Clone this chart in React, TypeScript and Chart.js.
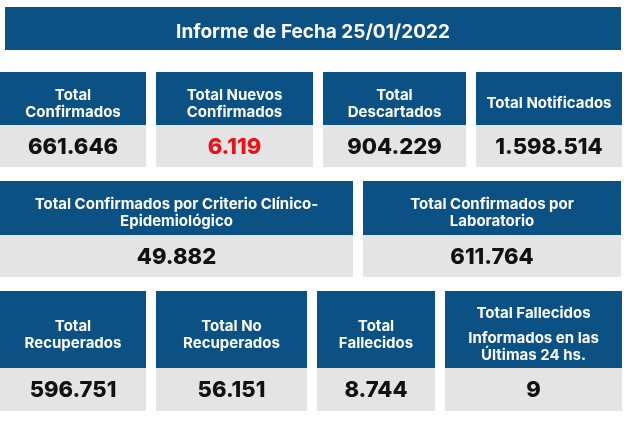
import React, { useEffect, useRef } from "react";
import { Chart, registerables } from "chart.js";

Chart.register(...registerables);

// ---------- data ----------
const reportTitle = "Informe de Fecha 25/01/2022";

const cardTitles: string[][][] = [
  [["Total", "Confirmados"]],
  [["Total Nuevos", "Confirmados"]],
  [["Total", "Descartados"]],
  [["Total Notificados"]],
  [["Total Confirmados por Criterio Clínico-", "Epidemiológico"]],
  [["Total Confirmados por", "Laboratorio"]],
  [["Total", "Recuperados"]],
  [["Total No", "Recuperados"]],
  [["Total", "Fallecidos"]],
  [["Total Fallecidos"], ["Informados en las", "Últimas 24 hs."]],
];

const cardValues: number[] = [661646, 6119, 904229, 1598514, 49882, 611764, 596751, 56151, 8744, 9];

const highlightedCards: number[] = [1];

// ---------- layout (units of the hidden 630 x 424 scales) ----------
const titleBox = { x0: 5, x1: 621, y0: 7, y1: 50 };
const rows = [
  { top: 72, split: 125, bottom: 167, cols: [[0, 146], [156, 313], [323, 466], [476, 622]] },
  { top: 181, split: 235, bottom: 277, cols: [[0, 353], [363, 621]] },
  { top: 291, split: 368, bottom: 411, cols: [[0, 146], [156, 307], [317, 435], [445, 622]] },
];

const BLUE = "#0b5183";
const GREY = "#e4e4e4";
const RED = "#e5141b";
const FONT = "Inter, 'Open Sans', 'DejaVu Sans', sans-serif";

function fmt(n: number): string {
  return String(n).replace(/\B(?=(\d{3})+(?!\d))/g, ".");
}

const cardsPlugin = {
  id: "cards",
  afterDraw(chart: any) {
    const ctx: CanvasRenderingContext2D = chart.ctx;
    const sx = chart.scales.x;
    const sy = chart.scales.y;
    const px = (v: number) => sx.getPixelForValue(v);
    const py = (v: number) => sy.getPixelForValue(v);

    ctx.save();
    // title bar
    ctx.fillStyle = BLUE;
    ctx.fillRect(px(titleBox.x0), py(titleBox.y0), px(titleBox.x1) - px(titleBox.x0), py(titleBox.y1) - py(titleBox.y0));
    ctx.fillStyle = "#ffffff";
    ctx.font = `700 19px ${FONT}`;
    ctx.textAlign = "center";
    ctx.textBaseline = "middle";
    ctx.fillText(reportTitle, (px(titleBox.x0) + px(titleBox.x1)) / 2, (py(titleBox.y0) + py(titleBox.y1)) / 2 + 4);

    let idx = 0;
    rows.forEach((row) => {
      row.cols.forEach(([c0, c1]) => {
        const i = idx++;
        const x0 = px(c0);
        const x1 = px(c1);
        const yT = py(row.top);
        const yS = py(row.split);
        const yB = py(row.bottom);
        ctx.fillStyle = BLUE;
        ctx.fillRect(x0, yT, x1 - x0, yS - yT);
        ctx.fillStyle = GREY;
        ctx.fillRect(x0, yS, x1 - x0, yB - yS);

        // header text
        const paras = cardTitles[i];
        const lineH = 17;
        const paraGap = 8;
        const lines: { text: string; off: number }[] = [];
        let y = 0;
        paras.forEach((p, pi) => {
          if (pi > 0) y += paraGap;
          p.forEach((t) => {
            lines.push({ text: t, off: y });
            y += lineH;
          });
        });
        const total = y - lineH;
        const cy = (yT + yS) / 2 + 5;
        ctx.fillStyle = "#ffffff";
        ctx.font = `700 15px ${FONT}`;
        lines.forEach((l) => {
          ctx.fillText(l.text, (x0 + x1) / 2, cy - total / 2 + l.off);
        });

        // value
        ctx.fillStyle = highlightedCards.includes(i) ? RED : "#111111";
        ctx.font = `800 22px ${FONT}`;
        ctx.fillText(fmt(cardValues[i]), (x0 + x1) / 2, (yS + yB) / 2 + 1);
      });
    });
    ctx.restore();
  },
};

export default function App() {
  const ref = useRef<HTMLCanvasElement | null>(null);
  useEffect(() => {
    if (!ref.current) return;
    const chart = new Chart(ref.current, {
      type: "scatter",
      data: { datasets: [] },
      options: {
        animation: false,
        responsive: false,
        maintainAspectRatio: false,
        layout: { padding: 0 },
        plugins: { legend: { display: false }, tooltip: { enabled: false }, title: { display: false } },
        scales: {
          x: { type: "linear", min: 0, max: 630, display: false },
          y: { type: "linear", min: 0, max: 424, reverse: true, display: false },
        },
      },
      plugins: [cardsPlugin],
    });
    return () => chart.destroy();
  }, []);
  return (
    <div style={{ position: "fixed", left: 0, top: 0, width: 630, height: 424, background: "#ffffff" }}>
      <canvas ref={ref} width={630} height={424} style={{ width: 630, height: 424, display: "block" }} />
    </div>
  );
}
